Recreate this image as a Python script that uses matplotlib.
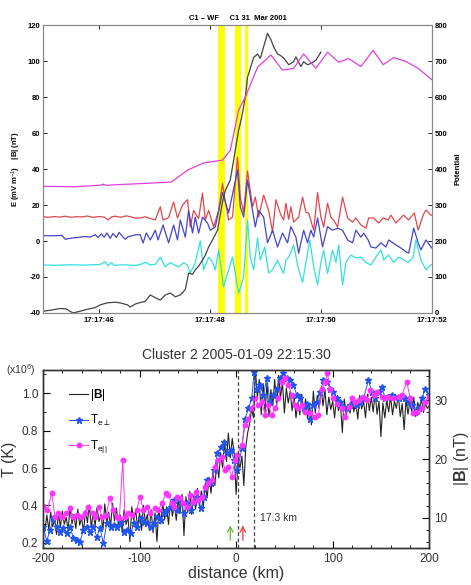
import numpy as np
import matplotlib
matplotlib.use('Agg')
import matplotlib.pyplot as plt
from matplotlib.ticker import MultipleLocator

plt.rcParams['font.family'] = ['Liberation Sans', 'DejaVu Sans']
plt.rcParams['mathtext.fontset'] = 'custom'
plt.rcParams['mathtext.rm'] = 'Liberation Sans'
plt.rcParams['mathtext.it'] = 'Liberation Sans:italic'
plt.rcParams['mathtext.bf'] = 'Liberation Sans:bold'
plt.rcParams['axes.unicode_minus'] = False

# ---------------- top panel data (seconds after 17:17:00) ----------------
yellow_bands = [(48.14, 48.28), (48.45, 48.57), (48.63, 48.69)]
time_ticks = [46, 48, 50, 52]
time_labels = ['17:17:46', '17:17:48', '17:17:50', '17:17:52']

t_red = [45.0, 45.1, 45.2, 45.3, 45.4, 45.5, 45.6, 45.7, 45.8, 45.9, 46.0, 46.1, 46.17, 46.23,
         46.3, 46.4, 46.5, 46.6, 46.68, 46.75, 46.84, 46.93, 47.02, 47.11, 47.16, 47.26, 47.35,
         47.42, 47.51, 47.60, 47.65, 47.71, 47.80, 47.87, 47.92, 47.98, 48.07, 48.16, 48.23,
         48.28, 48.34, 48.41, 48.50, 48.55, 48.61, 48.68, 48.77, 48.82, 48.88, 48.97, 49.06,
         49.13, 49.19, 49.28, 49.33, 49.37, 49.42, 49.46, 49.51, 49.60, 49.67, 49.73, 49.78,
         49.87, 49.94, 50.00, 50.05, 50.12, 50.18, 50.23, 50.30, 50.39, 50.48, 50.57, 50.63,
         50.72, 50.81, 50.86, 50.95, 51.04, 51.12, 51.21, 51.26, 51.35, 51.40, 51.49, 51.58,
         51.68, 51.75, 51.84, 51.89, 51.98, 52.0]
e_red = [13.5, 13.2, 13.6, 13.3, 13.8, 13.2, 13.5, 13.4, 13.9, 13.1, 13.6, 13.3, 11.7, 13.4,
         13.8, 13.2, 14.0, 13.3, 12.6, 12.8, 13.5, 12.5, 11.7, 19.0, 11.7, 13.0, 21.7,
         12.8, 20.0, 23.0, 7.8, 17.0, 12.5, 26.7, 11.7, 17.0, 7.8, 17.0, 32.0,
         21.7, 11.7, 13.3, 46.7, 24.4, 16.0, 39.0, 19.0, 24.4, 13.3, 25.5, 17.0,
         5.0, 23.0, 14.4, 11.7, 21.0, 12.0, 19.0, 10.5, 13.3, 24.4, 16.0, 15.5,
         6.0, 27.0, 13.3, 7.8, 21.0, 13.3, 11.7, 7.8, 24.4, 12.8, 10.5, 12.8,
         8.9, 7.2, 12.8, 12.8, 10.0, 12.8, 11.7, 14.4, 10.0, 11.7, 14.4, 11.7,
         15.6, 6.0, 14.4, 17.2, 14.4, 14.5]

t_blue = [45.00, 45.13, 45.25, 45.34, 45.40, 45.49, 45.63, 45.76, 45.85, 45.94, 45.99, 46.05,
          46.10, 46.15, 46.21, 46.26, 46.32, 46.37, 46.43, 46.48, 46.53, 46.61, 46.68, 46.75,
          46.80, 46.86, 46.93, 47.02, 47.07, 47.16, 47.26, 47.35, 47.42, 47.47, 47.56, 47.62,
          47.69, 47.74, 47.80, 47.87, 47.96, 48.01, 48.10, 48.23, 48.34, 48.50, 48.55, 48.61,
          48.68, 48.77, 48.82, 48.88, 48.97, 49.04, 49.13, 49.22, 49.31, 49.40, 49.46, 49.55,
          49.60, 49.69, 49.76, 49.82, 49.87, 49.94, 50.03, 50.12, 50.21, 50.30, 50.39, 50.48,
          50.57, 50.63, 50.72, 50.77, 50.85, 50.90, 50.99, 51.08, 51.17, 51.22, 51.35, 51.44,
          51.53, 51.58, 51.67, 51.75, 51.80, 51.89, 51.98, 52.0]
e_blue = [3.0, 2.9, 3.0, 3.1, 1.0, 1.5, 2.0, 2.5, 2.2, 3.5, 2.0, 4.0,
          2.2, 4.5, 1.5, 4.2, 2.0, 4.8, 2.5, 1.0, 2.4, 3.0, 3.5, 3.5,
          -1.1, 4.5, 0.6, 6.0, 0.6, 8.9, -1.0, 8.9, 0.6, 11.7, 2.2, 17.0,
          4.4, 13.3, 4.4, 13.3, 10.0, 6.0, 7.8, 27.0, 15.6, 39.4, 19.0, 13.3,
          33.9, 17.0, 7.8, 17.0, 13.3, -1.0, 6.0, -3.3, 4.4, -1.0, 8.0, 2.2,
          -6.7, 6.0, -1.0, 6.0, 2.2, 12.8, -3.3, 8.0, 6.0, 7.2, 6.0, 0.6,
          -1.0, 6.0, 2.2, 4.4, 0.6, -3.3, -3.9, -1.0, -3.3, 0.6, -2.2, -3.9,
          -6.0, -6.7, 7.2, -1.0, -5.0, 0.6, -3.3, -4.0]

t_cyan = [45.00, 45.22, 45.49, 45.76, 46.03, 46.12, 46.17, 46.23, 46.28, 46.48, 46.66, 46.75,
          46.84, 46.93, 47.02, 47.11, 47.20, 47.29, 47.38, 47.44, 47.53, 47.60, 47.65, 47.74,
          47.83, 47.89, 47.98, 48.05, 48.10, 48.16, 48.25, 48.34, 48.41, 48.52, 48.61, 48.68,
          48.73, 48.79, 48.86, 48.91, 48.99, 49.06, 49.13, 49.22, 49.28, 49.33, 49.37, 49.42,
          49.51, 49.60, 49.67, 49.73, 49.80, 49.87, 49.94, 50.00, 50.05, 50.12, 50.21, 50.27,
          50.32, 50.39, 50.45, 50.54, 50.63, 50.72, 50.81, 50.90, 50.99, 51.08, 51.13, 51.22,
          51.31, 51.40, 51.49, 51.57, 51.66, 51.71, 51.80, 51.89, 51.98, 52.0]
e_cyan = [-13.3, -13.5, -13.2, -13.4, -13.0, -11.5, -13.8, -12.0, -13.5, -13.2, -13.6, -13.0,
          -11.8, -13.3, -13.0, -9.0, -14.4, -12.0, -13.5, -14.4, -12.0, -13.5, -17.8, -12.0,
          0.0, -16.0, -9.0, -11.7, -16.0, -5.0, -25.5, -16.0, -9.0, -29.0, -20.0, 11.7,
          -9.0, -16.0, 1.7, -10.6, -3.3, -17.8, -16.0, -10.6, -15.0, -18.0, -10.6, -9.0,
          -2.2, -16.0, -23.0, -12.0, 0.5, -14.4, -24.4, -12.0, -5.0, -18.0, -5.0, -12.0,
          -2.2, -24.4, -12.0, -7.8, -9.4, -8.9, -12.0, -13.3, -8.9, -5.0, -10.5, -7.8,
          -12.0, -8.9, -10.5, -12.0, -8.9, 0.6, -10.5, -16.0, -13.3, -13.0]

t_bmag = [45.00, 45.13, 45.31, 45.41, 45.54, 45.67, 45.79, 45.94, 46.03, 46.15, 46.30, 46.39,
          46.52, 46.57, 46.66, 46.75, 46.84, 46.93, 47.02, 47.11, 47.20, 47.29, 47.38, 47.47,
          47.56, 47.62, 47.69, 47.74, 47.80, 47.87, 47.92, 47.98, 48.05, 48.14, 48.23, 48.28,
          48.37, 48.46, 48.52, 48.57, 48.64, 48.68, 48.73, 48.79, 48.86, 48.91, 48.97, 49.04,
          49.10, 49.15, 49.22, 49.28, 49.35, 49.42, 49.51, 49.55, 49.64, 49.69, 49.76, 49.82,
          49.91, 50.00]
bmag_top = [-39.0, -38.5, -37.5, -37.7, -40.0, -39.0, -38.0, -37.0, -35.5, -34.4, -34.0, -34.4,
            -35.5, -36.7, -35.0, -34.2, -33.5, -30.0, -31.5, -32.8, -30.0, -28.9, -31.0, -30.0,
            -27.0, -17.8, -18.5, -16.0, -14.0, -10.6, -8.0, -3.3, 0.6, 6.0, 21.7, 28.0,
            34.0, 50.6, 61.7, 68.0, 80.0, 91.0, 96.0, 102.0, 104.0, 101.5, 108.0, 115.5,
            112.0, 108.0, 104.0, 103.0, 101.0, 98.0, 99.7, 102.4, 97.0, 99.7, 98.0, 98.7,
            100.5, 105.0]

t_pot = [45.00, 45.58, 46.03, 46.08, 46.14, 46.93, 47.31, 47.60, 47.89, 48.23, 48.37, 48.52,
         48.64, 48.86, 49.10, 49.31, 49.51, 49.69, 49.91, 50.12, 50.32, 50.50, 50.72, 50.94,
         51.12, 51.31, 51.53, 51.75, 52.0]
potential = [352, 351, 355, 358, 355, 361, 364, 397, 417, 425, 452, 564,
             600, 683, 717, 675, 680, 720, 680, 725, 697, 707, 685, 730,
             690, 710, 699, 680, 648]

# ---------------- bottom panel data (distance in km) ----------------
d_par = [-199.6, -195.5, -191.0, -187.6, -184.1, -180.6, -176.2, -172.0, -168.6, -164.4, -161.0,
         -156.5, -153.0, -148.5, -146.1, -141.6, -139.2, -134.7, -130.6, -127.1, -123.7, -120.9,
         -117.4, -115.0, -111.6, -108.1, -102.9, -99.5, -96.0, -92.6, -89.1, -83.9, -80.5, -77.0,
         -72.5, -70.1, -66.7, -64.2, -61.5, -58.0, -55.3, -51.1, -47.7, -44.9, -41.8, -39.0,
         -35.6, -32.1, -28.7, -25.2, -21.8, -18.3, -14.9, -11.4, -8.0, -4.5, -1.0, 0.7,
         5.9, 9.3, 12.8, 16.2, 19.7, 23.1, 26.6, 30.0, 33.5, 36.9, 40.4, 43.9, 47.3, 50.8, 54.2,
         57.7, 61.1, 64.6, 68.0, 71.5, 76.7, 81.9, 85.3, 88.8, 92.3, 94.6, 97.4, 100.8, 104.3,
         109.5, 112.9, 116.4, 119.8, 123.3, 126.8, 131.9, 135.4, 138.8, 142.3, 145.8, 150.9,
         154.4, 157.8, 163.0, 168.2, 171.7, 176.8, 180.3, 183.7, 187.2, 192.4, 195.8, 199.3]
t_par = [0.397, 0.376, 0.465, 0.340, 0.358, 0.340, 0.358, 0.385, 0.340, 0.349, 0.340,
         0.358, 0.394, 0.358, 0.340, 0.394, 0.340, 0.349, 0.442, 0.376, 0.340, 0.332,
         0.643, 0.340, 0.358, 0.349, 0.376, 0.447, 0.376, 0.394, 0.358, 0.385, 0.376, 0.411,
         0.465, 0.456, 0.411, 0.394, 0.447, 0.438, 0.411, 0.394, 0.456, 0.420, 0.474, 0.429,
         0.447, 0.500, 0.518, 0.536, 0.607, 0.643, 0.660, 0.589, 0.607, 0.554, 0.643, 0.669,
         0.722, 0.829, 0.864, 0.918, 0.971, 0.936, 0.953, 0.882, 0.936, 0.882, 0.918, 0.971,
         1.060, 1.078, 1.042, 0.989, 0.936, 0.918, 0.936, 0.900, 0.891, 0.873, 0.882, 1.024,
         1.060, 1.105, 1.024, 0.971, 0.944, 0.918, 0.873, 0.927, 0.971, 0.953, 0.962, 0.980,
         0.962, 1.016, 0.989, 1.007, 0.980, 0.971, 0.980, 0.971, 0.980, 0.989, 1.060, 0.971,
         0.891, 0.900, 0.918, 0.953, 0.980]

d_perp = [-199.6, -196.2, -192.7, -189.3, -185.8, -182.4, -178.9, -175.5, -172.0, -168.6, -165.1,
          -161.7, -158.2, -154.7, -151.3, -147.8, -144.4, -140.9, -137.5, -134.0, -129.9, -126.4,
          -123.0, -119.5, -116.1, -112.6, -109.2, -105.7, -102.2, -98.8, -95.3, -91.9, -88.4,
          -85.0, -81.5, -78.1, -74.6, -71.2, -67.7, -64.3, -60.8, -57.3, -53.9, -50.4, -47.0,
          -43.5, -40.1, -36.6, -33.2, -29.7, -26.3, -22.8, -19.3, -15.9, -12.4, -9.0, -5.5,
          -2.1, 1.4, 5.9, 9.3, 12.8, 16.2, 18.6, 21.4, 24.9, 28.3, 31.8, 35.2, 38.7, 42.1,
          45.6, 49.0, 52.5, 56.0, 59.4, 62.9, 66.3, 69.8, 73.2, 76.7, 80.1, 83.6, 87.0, 90.5,
          93.9, 97.4, 100.8, 104.3, 107.8, 111.2, 114.7, 118.1, 121.6, 125.0, 128.5, 131.9,
          137.1, 140.6, 144.0, 147.5, 150.9, 154.4, 157.8, 161.3, 164.7, 168.2, 171.7, 175.1,
          178.6, 182.0, 185.5, 188.9, 192.4, 195.8, 199.3]
t_perp = [0.287, 0.210, 0.269, 0.331, 0.287, 0.260, 0.278, 0.251, 0.287, 0.225, 0.216,
          0.207, 0.269, 0.287, 0.260, 0.287, 0.234, 0.278, 0.198, 0.305, 0.287, 0.296,
          0.287, 0.314, 0.260, 0.269, 0.251, 0.305, 0.287, 0.331, 0.314, 0.305, 0.287,
          0.305, 0.340, 0.322, 0.358, 0.376, 0.394, 0.429, 0.376, 0.420, 0.358, 0.411, 0.376,
          0.420, 0.447, 0.385, 0.447, 0.536, 0.518, 0.589, 0.678, 0.714, 0.740, 0.678, 0.696,
          0.643, 0.589, 0.705, 0.864, 0.918, 0.971, 1.113, 1.024, 1.042, 0.989, 1.078, 0.953,
          0.989, 1.024, 1.078, 1.105, 1.078, 1.069, 1.042, 0.989, 0.971, 0.918, 0.944, 0.864,
          0.936, 0.953, 1.007, 1.069, 1.060, 1.024, 1.007, 0.971, 0.953, 0.927, 0.918, 0.936,
          0.953, 0.936, 0.953, 0.971, 1.069, 1.007, 0.971, 1.007, 1.033, 0.971, 0.980, 0.989,
          0.980, 0.971, 0.980, 0.971, 0.953, 0.936, 0.900, 0.918, 0.971, 1.024, 0.989]

d_bmag = list(range(-200, 201, 2))
b_bottom = [9.5, 7.8, 10.5, 8.0, 11.0, 8.5, 9.8, 7.2, 10.8, 8.4,
            11.2, 8.9, 10.1, 7.9, 12.0, 9.0, 10.6, 8.2, 11.5, 8.8,
            10.0, 7.6, 11.3, 9.2, 12.2, 8.3, 10.9, 8.7, 11.8, 9.4,
            10.6, 8.0, 12.4, 9.1, 11.0, 8.6, 12.5, 9.5, 11.7, 8.9,
            10.5, 7.7, 11.4, 8.9, 10.2, 6.0, 11.9, 9.6, 11.3, 8.4,
            10.8, 7.9, 12.1, 9.2, 10.6, 8.0, 11.4, 7.5, 10.9, 6.0,
            11.5, 9.0, 12.6, 9.8, 11.9, 8.9, 13.0, 10.3, 12.4, 9.6,
            13.2, 10.8, 14.0, 7.0, 13.6, 11.0, 14.5, 10.6, 13.8, 11.5,
            15.0, 12.0, 14.6, 11.8, 15.8, 13.4, 16.9, 14.2, 17.8, 15.5,
            19.5, 16.8, 21.0, 18.5, 22.8, 19.6, 24.4, 20.2, 23.5, 21.0,
            14.0, 19.8, 18.5, 20.5, 15.5, 22.0, 24.5, 26.0, 28.5, 27.0,
            35.2, 30.5, 33.5, 27.5, 32.8, 28.0, 33.0, 27.2, 31.8, 29.0,
            33.5, 29.0, 34.2, 30.5, 33.0, 27.8, 32.0, 29.5, 31.5, 28.2,
            30.8, 27.0, 29.6, 27.5, 31.0, 28.0, 30.2, 26.8, 29.5, 25.8,
            31.5, 27.8, 30.8, 28.6, 32.0, 29.0, 31.8, 27.5, 30.5, 28.4,
            29.8, 27.0, 30.6, 28.2, 29.5, 24.5, 30.2, 27.5, 29.0, 27.8,
            30.4, 28.0, 29.6, 26.8, 30.8, 28.5, 29.8, 27.0, 31.0, 28.2,
            30.5, 28.0, 31.2, 27.6, 29.8, 23.8, 29.5, 27.0, 30.0, 28.0,
            30.6, 27.5, 29.8, 28.6, 30.9, 27.2, 29.4, 25.0, 30.2, 27.6,
            29.8, 28.0, 30.5, 27.2, 29.6, 28.5, 30.2, 27.9, 29.4, 28.6,
            29.0]

dashed_x = [1.5, 18.8]
arrow_x = [-6.0, 7.0]
arrow_colors = ['#77b84a', '#f04a4a']

# ---------------- figure ----------------
fig = plt.figure(figsize=(4.71, 5.85), dpi=100)

# top panel
ax1 = fig.add_axes([0.0913, 0.465, 0.826, 0.492])
for a, b in yellow_bands:
    ax1.axvspan(a, b, color='#ffff00', lw=0, zorder=1)
ax1.plot(t_red, e_red, color='#e0474c', lw=0.9, zorder=3)
ax1.plot(t_blue, e_blue, color='#4444cc', lw=0.9, zorder=3)
ax1.plot(t_cyan, e_cyan, color='#33e0e0', lw=0.9, zorder=3)
ax1.plot(t_bmag, bmag_top, color='#444444', lw=0.9, zorder=3)
ax1.set_xlim(45, 52)
ax1.set_ylim(-40, 120)
ax1.set_xticks(time_ticks)
ax1.set_xticklabels(time_labels)
ax1.set_yticks(range(-40, 121, 20))
ax1.tick_params(direction='in', length=3, labelsize=5.5, top=True, width=0.6, pad=2)
ax1.tick_params(axis='x', pad=3)
ax1.set_title('C1 \u2013 WF     C1 31  Mar 2001', fontsize=5.5, fontweight='bold', pad=4)
ax1.set_ylabel('E (mV m$^{-1}$)    |B| (nT)', fontsize=5.5, fontweight='bold', labelpad=3)

ax1r = ax1.twinx()
ax1r.plot(t_pot, potential, color='#e040e0', lw=0.9)
ax1r.set_ylim(0, 800)
ax1r.set_yticks(range(0, 801, 100))
ax1r.tick_params(direction='in', length=3, labelsize=5.5, width=0.6, pad=2)
ax1r.set_ylabel('Potential', fontsize=5.5, fontweight='bold', labelpad=5)

for a in (ax1, ax1r):
    for lbl in a.get_xticklabels() + a.get_yticklabels():
        lbl.set_fontweight('bold')
    for s in a.spines.values():
        s.set_color('#888888')
        s.set_linewidth(0.8)

# bottom panel
ax2 = fig.add_axes([0.0913, 0.0632, 0.820, 0.3043])
ax2b = ax2.twinx()
ax2.set_zorder(ax2b.get_zorder() + 1)
ax2.patch.set_visible(False)

hb, = ax2b.plot(d_bmag, b_bottom, color='#222222', lw=0.8)
ax2b.set_ylim(4.9, 35.1)
ax2b.yaxis.set_major_locator(MultipleLocator(10))
ax2b.yaxis.set_minor_locator(MultipleLocator(2))
ax2b.tick_params(which='both', direction='in', labelsize=8.5, labelcolor='#333333')
ax2b.tick_params(which='major', length=5)
ax2b.tick_params(which='minor', length=2.5)
ax2b.set_ylabel('|$\\mathbf{B}$| (nT)', fontsize=11.5, color='#333333', labelpad=3)

hperp, = ax2.plot(d_perp, t_perp, color='#2255ee', lw=0.7, marker='*', ms=4.5)
hpar, = ax2.plot(d_par, t_par, color='#ff33ff', lw=0.7, marker='o', ms=3.2)
for x in dashed_x:
    ax2.axvline(x, color='#444444', lw=0.9, ls=(0, (3, 2)))
for x, c in zip(arrow_x, arrow_colors):
    ax2.annotate('', xy=(x, 0.31), xytext=(x, 0.2),
                 arrowprops=dict(arrowstyle='->', color=c, lw=1.0))
ax2.text(25, 0.335, '17.3 km', fontsize=7.5, color='#333333', va='center')

ax2.set_xlim(-200, 200)
ax2.set_ylim(0.173, 1.123)
ax2.set_xticks([-200, -100, 0, 100, 200])
ax2.xaxis.set_minor_locator(MultipleLocator(20))
ax2.set_yticks([0.2, 0.4, 0.6, 0.8, 1.0])
ax2.set_yticklabels(['0.2', '0.4', '0.6', '0.8', '1.0'])
ax2.yaxis.set_minor_locator(MultipleLocator(0.1))
ax2.tick_params(which='both', direction='in', top=True, right=False, labelsize=8.5,
                labelcolor='#333333')
ax2.tick_params(which='major', length=5)
ax2.tick_params(which='minor', length=2.5)
ax2.set_xlabel('distance (km)', fontsize=11.5, color='#333333', labelpad=1)
ax2.set_ylabel('T (K)', fontsize=11.5, color='#333333', labelpad=3)
ax2.set_title('Cluster 2 2005-01-09 22:15:30', fontsize=10, color='#333333', pad=8)
ax2.text(-0.02, 1.0, '(x10$^6$)', transform=ax2.transAxes, ha='right', va='center',
         fontsize=7.5, color='#333333')

ax2.legend([hb, hperp, hpar],
           ['|$\\mathbf{B}$|', 'T$_{\\mathrm{e}\\perp}$', 'T$_{\\mathrm{e||}}$'],
           loc='upper left', bbox_to_anchor=(0.04, 0.965), frameon=False,
           handlelength=1.6, handletextpad=0.2, labelspacing=0.85, fontsize=8.5)

for a in (ax2, ax2b):
    for s in a.spines.values():
        s.set_color('#333333')
        s.set_linewidth(1.0)

fig.savefig('out.png', dpi=100)
